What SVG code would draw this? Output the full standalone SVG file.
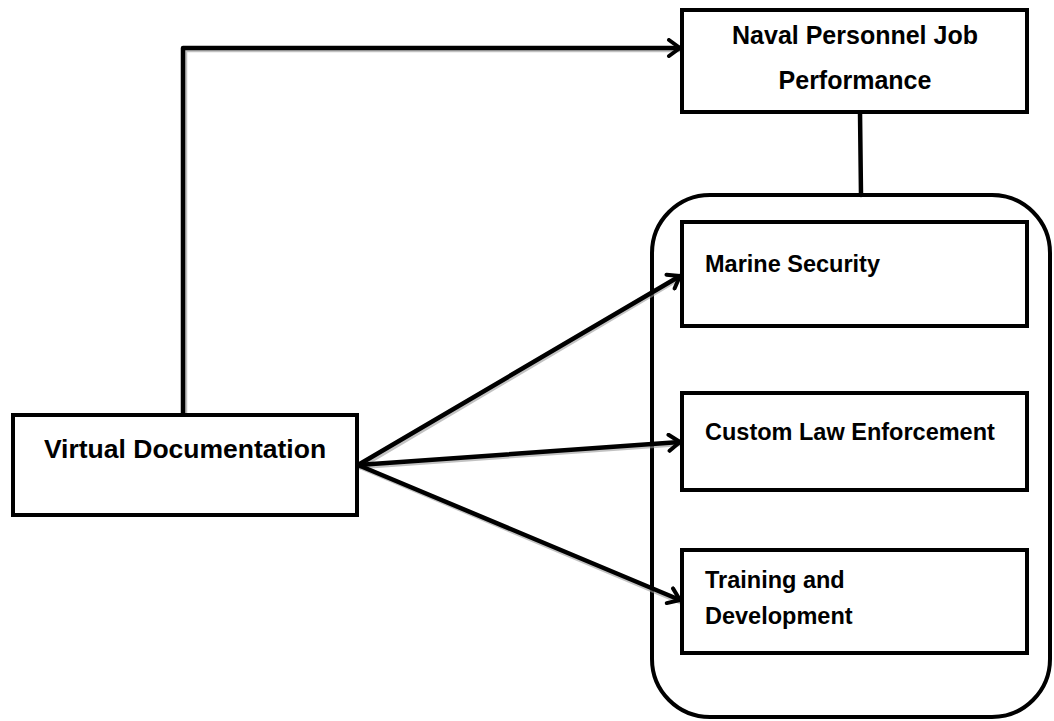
<svg xmlns="http://www.w3.org/2000/svg" width="1054" height="721" viewBox="0 0 1054 721">
<defs>
<style>
.box{fill:#fff;stroke:#000;stroke-width:4}
.grp{fill:none;stroke:#000;stroke-width:4}
.lbl{font-family:"Liberation Sans",Arial,sans-serif;font-weight:bold;font-size:23.5px;fill:#000}
.con{fill:none;stroke:#000;stroke-width:4.5;stroke-linecap:round;stroke-linejoin:round}
.sh{fill:none;stroke:#999;stroke-width:4.5;stroke-linecap:round;stroke-linejoin:round;opacity:0.6}
</style>
<marker id="arr" viewBox="0 0 20 20" refX="17" refY="10" markerWidth="20" markerHeight="20" markerUnits="userSpaceOnUse" orient="auto">
<path d="M6,2 L17,10 L6,18" fill="none" stroke="#000" stroke-width="4" stroke-linecap="round" stroke-linejoin="round"/>
</marker>
</defs>
<rect width="1054" height="721" fill="#fff"/>
<g id="group-container">
<rect class="grp" x="652" y="195" width="398" height="522" rx="58" ry="58"/>
</g>
<g id="connectors">
<path class="sh" d="M185,413 L185,50 L680,50"/>
<path class="sh" d="M360,467 L680,278"/>
<path class="sh" d="M360,467 L680,444"/>
<path class="sh" d="M360,467 L680,602"/>
<path class="con" d="M183,413 L183,48 L680,48" marker-end="url(#arr)"/>
<path class="con" d="M358,465 L680,276" marker-end="url(#arr)"/>
<path class="con" d="M358,465 L680,442" marker-end="url(#arr)"/>
<path class="con" d="M358,465 L680,600" marker-end="url(#arr)"/>
<line class="con" x1="860" y1="112" x2="861" y2="195" stroke-linecap="butt"/>
</g>
<g id="node-naval">
<rect class="box" x="682" y="10" width="345" height="102"/>
<text class="lbl" x="855" y="44" text-anchor="middle" style="font-size:25px">Naval Personnel Job</text>
<text class="lbl" x="855" y="89" text-anchor="middle" style="font-size:25px">Performance</text>
</g>
<g id="node-marine">
<rect class="box" x="682" y="222" width="345" height="104"/>
<text class="lbl" x="705" y="272">Marine Security</text>
</g>
<g id="node-custom">
<rect class="box" x="682" y="393" width="345" height="97"/>
<text class="lbl" x="705" y="440">Custom Law Enforcement</text>
</g>
<g id="node-training">
<rect class="box" x="682" y="550" width="345" height="103"/>
<text class="lbl" x="705" y="588">Training and</text>
<text class="lbl" x="705" y="624">Development</text>
</g>
<g id="node-virtual">
<rect class="box" x="13" y="415" width="344" height="100"/>
<text class="lbl" x="185" y="458" text-anchor="middle" style="font-size:26.5px">Virtual Documentation</text>
</g>
</svg>
